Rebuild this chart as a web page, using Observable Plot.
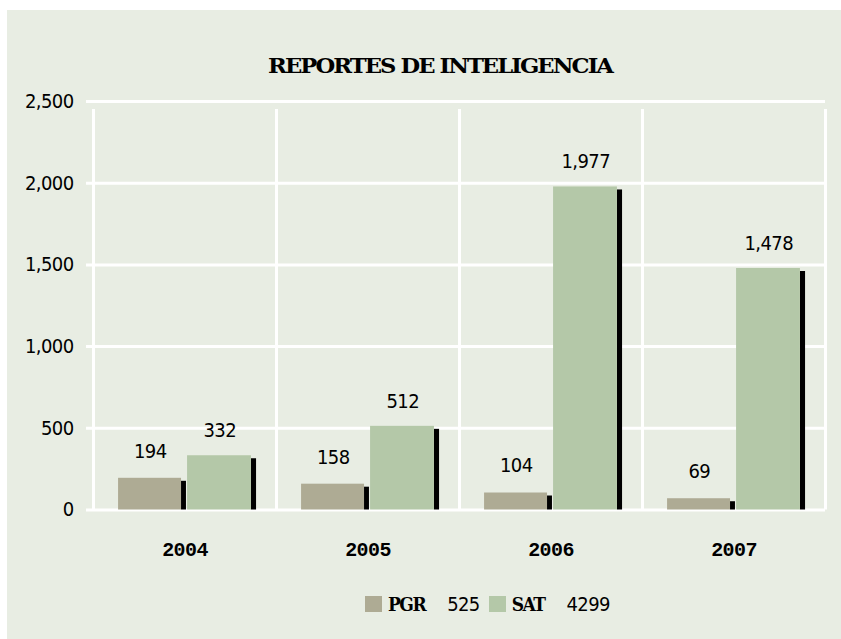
<!DOCTYPE html>
<html>
<head>
<meta charset="utf-8">
<script src="https://cdn.jsdelivr.net/npm/d3@7"></script>
<script src="https://cdn.jsdelivr.net/npm/@observablehq/plot@0.6"></script>
<style>
  html, body { margin: 0; padding: 0; background: #ffffff; }
  #panel { position: absolute; left: 7px; top: 10px; width: 834px; height: 629px; background: #e8ede3; overflow: hidden; }
  #title { position: absolute; left: 261px; top: 43px; font-family: "DejaVu Serif", serif; font-stretch: condensed; font-weight: bold; font-size: 21px; letter-spacing: -1.6px; color: #000; white-space: nowrap; transform-origin: 0 50%; }
  #chart { position: absolute; left: 0; top: 0; }
  #legend { position: absolute; left: 358px; top: 582px; display: flex; align-items: center; white-space: nowrap; color: #000; }
  .sw { width: 17px; height: 16px; display: inline-block; }
  .nm { font-family: "DejaVu Serif", serif; font-stretch: condensed; font-weight: bold; font-size: 19px; letter-spacing: -1.5px; margin-left: 6px; }
  .tot { font-family: "DejaVu Sans", sans-serif; font-stretch: condensed; font-size: 20px; letter-spacing: -0.6px; margin-left: 22px; margin-right: 9px; }
</style>
</head>
<body>
<div id="panel">
  <div id="chart"></div>
  <div id="title"></div>
  <div id="legend"></div>
</div>
<script>
const titleText = "REPORTES DE INTELIGENCIA";
const years = ["2004", "2005", "2006", "2007"];
const seriesNames = ["PGR", "SAT"];
const pgrValues = [194, 158, 104, 69];
const satValues = [332, 512, 1977, 1478];
const yTicks = [0, 500, 1000, 1500, 2000, 2500];
const colors = { PGR: "#aeab94", SAT: "#b4c8a8" };

const pgr = years.map((year, i) => ({ year, value: pgrValues[i] }));
const sat = years.map((year, i) => ({ year, value: satValues[i] }));
const totals = { PGR: d3.sum(pgrValues), SAT: d3.sum(satValues) };
const fmt = d3.format(",");

const W = 834, H = 629, mL = 86, mR = 16;
const band = (W - mL - mR) / years.length;

const sansFont = "'DejaVu Sans', sans-serif";

const chart = Plot.plot({
  width: W,
  height: H,
  marginLeft: mL,
  marginRight: mR,
  marginTop: 91,
  marginBottom: 129.5,
  style: { background: "transparent", overflow: "visible" },
  x: { domain: years, padding: 0, axis: null },
  y: { domain: [0, 2500], axis: null },
  marks: [
    Plot.ruleY(yTicks, { stroke: "#ffffff", strokeWidth: 3, insetLeft: -7 }),
    Plot.ruleX(years, { x: d => d, dx: -band / 2, y1: 0, y2: 2500, stroke: "#ffffff", strokeWidth: 3, insetBottom: -8 }),
    Plot.ruleX([years[years.length - 1]], { x: d => d, dx: band / 2, y1: 0, y2: 2500, stroke: "#ffffff", strokeWidth: 3, insetBottom: -8 }),
    Plot.barY(pgr, { x: "year", y: "value", fill: "#000", insetLeft: band * 0.481, insetRight: band * 0.492, insetTop: 3 }),
    Plot.barY(pgr, { x: "year", y: "value", fill: colors.PGR, insetLeft: band * 0.137, insetRight: band * 0.519 }),
    Plot.barY(sat, { x: "year", y: "value", fill: "#000", insetLeft: band * 0.863, insetRight: band * 0.109, insetTop: 3 }),
    Plot.barY(sat, { x: "year", y: "value", fill: colors.SAT, insetLeft: band * 0.514, insetRight: band * 0.137 }),
    Plot.text(pgr, { x: "year", y: "value", text: d => fmt(d.value), dx: -band * 0.19, dy: -27, fontSize: 20, fontFamily: sansFont, fill: "#000", lineAnchor: "middle" }),
    Plot.text(sat, { x: "year", y: "value", text: d => fmt(d.value), dx: band * 0.19, dy: -25, fontSize: 20, fontFamily: sansFont, fill: "#000", lineAnchor: "middle" }),
    Plot.text(yTicks, { y: d => d, text: d => fmt(d), frameAnchor: "left", dx: -20, textAnchor: "end", fontSize: 20, fontFamily: sansFont, fill: "#000", lineAnchor: "middle" }),
    Plot.text(years, { x: d => d, text: d => d, frameAnchor: "bottom", dy: 40, fontSize: 20, fontFamily: "'Liberation Mono', monospace", fontWeight: "bold", fill: "#000", lineAnchor: "middle" })
  ]
});
chart.querySelectorAll("text").forEach(t => { t.style.fontStretch = "condensed"; t.style.letterSpacing = "-0.6px"; });
document.getElementById("chart").appendChild(chart);

const title = document.getElementById("title");
title.textContent = titleText;
const tw = title.getBoundingClientRect().width;
if (tw > 0) title.style.transform = `scaleX(${344 / tw})`;

const legend = document.getElementById("legend");
seriesNames.forEach(name => {
  const sw = document.createElement("span"); sw.className = "sw"; sw.style.background = colors[name];
  const nm = document.createElement("span"); nm.className = "nm"; nm.textContent = name;
  const tot = document.createElement("span"); tot.className = "tot"; tot.textContent = String(totals[name]);
  legend.append(sw, nm, tot);
});
</script>
</body>
</html>
